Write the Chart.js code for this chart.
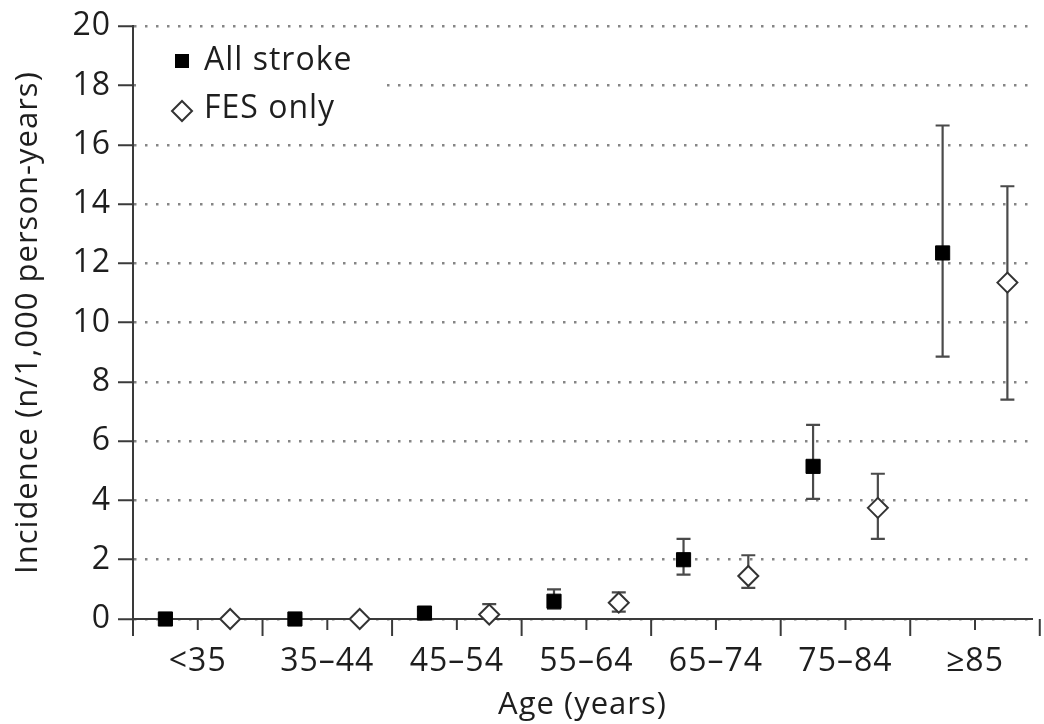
<!DOCTYPE html>
<html lang="en">
<head>
<meta charset="UTF-8">
<title>Stroke incidence by age</title>
<script src="https://cdn.jsdelivr.net/npm/chart.js"></script>
<style>
  html, body { margin: 0; padding: 0; background: #fff; }
</style>
</head>
<body>
<canvas id="strokeChart" width="1044" height="724"></canvas>
<script>
const ageGroups = ['<35', '35–44', '45–54', '55–64', '65–74', '75–84', '≥85'];

// incidence per 1,000 person-years, with lower / upper limits
const allStroke     = [0.0, 0.0, 0.2, 0.6, 2.0, 5.15, 12.35];
const allStrokeLow  = [0.0, 0.0, 0.1, 0.35, 1.5, 4.05, 8.85];
const allStrokeHigh = [0.05, 0.05, 0.3, 1.0, 2.7, 6.55, 16.65];

const fesOnly     = [0.0, 0.0, 0.15, 0.55, 1.45, 3.75, 11.35];
const fesOnlyLow  = [0.0, 0.0, 0.05, 0.25, 1.05, 2.7, 7.4];
const fesOnlyHigh = [0.05, 0.05, 0.5, 0.9, 2.15, 4.9, 14.6];

const yTicks = [0, 2, 4, 6, 8, 10, 12, 14, 16, 18, 20];

const FONT = "'Open Sans', sans-serif";
const INK = '#1e1e1e';
const AXIS = '#3a3a3a';
const SPACING = '1px';

// squares sit in the left half of each age group, diamonds in the right half
const toPoints = (vals, shift) => vals.map((v, i) => ({ x: i + shift, y: v }));

// slightly looser lettering for every label on the canvas
const looseText = {
    id: 'looseText',
    beforeInit(chart) { chart.ctx.letterSpacing = SPACING; },
    beforeUpdate(chart) { chart.ctx.letterSpacing = SPACING; },
    beforeDraw(chart) { chart.ctx.letterSpacing = SPACING; }
};

const errorBars = {
    id: 'errorBars',
    beforeDatasetsDraw(chart) {
        const { ctx, scales: { x, y } } = chart;
        const sets = [
            { shift: 0.25, lo: allStrokeLow, hi: allStrokeHigh },
            { shift: 0.75, lo: fesOnlyLow, hi: fesOnlyHigh }
        ];
        ctx.save();
        ctx.strokeStyle = '#4a4a4a';
        ctx.lineWidth = 2.2;
        sets.forEach(s => {
            s.lo.forEach((lo, i) => {
                const px = x.getPixelForValue(i + s.shift);
                const yl = y.getPixelForValue(lo);
                const yh = y.getPixelForValue(s.hi[i]);
                ctx.beginPath();
                ctx.moveTo(px, yl); ctx.lineTo(px, yh);
                ctx.moveTo(px - 7, yl); ctx.lineTo(px + 7, yl);
                ctx.moveTo(px - 7, yh); ctx.lineTo(px + 7, yh);
                ctx.stroke();
            });
        });
        ctx.restore();
    }
};

// long ticks on group boundaries, short ticks between the two markers
const xTickMarks = {
    id: 'xTickMarks',
    afterDraw(chart) {
        const { ctx, scales: { x, y } } = chart;
        const base = y.getPixelForValue(0);
        ctx.save();
        ctx.strokeStyle = AXIS;
        ctx.lineWidth = 2;
        for (let i = 0; i <= ageGroups.length; i++) {
            [[i, 17], [i + 0.5, 11]].forEach(([v, len]) => {
                const px = x.getPixelForValue(v);
                if (px > chart.width) return;
                ctx.beginPath();
                ctx.moveTo(px, base);
                ctx.lineTo(px, base + len);
                ctx.stroke();
            });
        }
        ctx.restore();
    }
};

const insetLegend = {
    id: 'insetLegend',
    afterDraw(chart) {
        const { ctx } = chart;
        ctx.save();
        ctx.fillStyle = '#fff';
        ctx.fillRect(136, 40, 244, 92);
        ctx.fillStyle = '#000';
        ctx.fillRect(175, 54, 14, 14);
        ctx.beginPath();
        ctx.moveTo(182, 101); ctx.lineTo(192, 111); ctx.lineTo(182, 121); ctx.lineTo(172, 111);
        ctx.closePath();
        ctx.fillStyle = '#fff';
        ctx.fill();
        ctx.strokeStyle = '#333';
        ctx.lineWidth = 2;
        ctx.stroke();
        ctx.fillStyle = INK;
        ctx.font = "500 32px " + FONT;
        ctx.textBaseline = 'middle';
        ctx.fillText('All stroke', 204, 61);
        ctx.fillText('FES only', 204, 109);
        ctx.restore();
    }
};

const ctx = document.getElementById('strokeChart').getContext('2d');
new Chart(ctx, {
    type: 'scatter',
    data: {
        datasets: [
            {
                label: 'All stroke',
                data: toPoints(allStroke, 0.25),
                pointStyle: 'rect',
                pointRadius: 10,
                backgroundColor: '#000',
                borderColor: '#000',
                borderWidth: 1,
                clip: false
            },
            {
                label: 'FES only',
                data: toPoints(fesOnly, 0.75),
                pointStyle: 'rectRot',
                pointRadius: 10,
                backgroundColor: '#fff',
                borderColor: '#333',
                borderWidth: 2,
                clip: false
            }
        ]
    },
    options: {
        responsive: false,
        animation: false,
        layout: { padding: { top: 24, right: 0, left: 0, bottom: 0 } },
        plugins: { legend: { display: false }, tooltip: { enabled: false } },
        scales: {
            x: {
                type: 'linear',
                min: 0,
                max: 6.94,
                afterBuildTicks(s) { s.ticks = ageGroups.map((_, i) => ({ value: i + 0.5 })); },
                afterFit(s) { s.height = 105; },
                ticks: {
                    callback: (v, i) => ageGroups[i],
                    autoSkip: false, maxRotation: 0,
                    font: { family: FONT, size: 32, weight: 500 }, color: INK, padding: 24
                },
                grid: { display: false, drawTicks: false },
                border: { display: true, color: AXIS, width: 2 },
                title: {
                    display: true, text: 'Age (years)',
                    font: { family: FONT, size: 31, weight: 500 }, color: INK,
                    padding: { top: 0, bottom: 0 }
                }
            },
            y: {
                min: 0,
                max: 20,
                afterBuildTicks(s) { s.ticks = yTicks.map(v => ({ value: v })); },
                afterFit(s) { s.width = 133; },
                ticks: { font: { family: FONT, size: 32, weight: 500 }, color: INK, padding: 7 },
                grid: {
                    color: '#858585', lineWidth: 2.5,
                    tickLength: 15, tickColor: AXIS, tickWidth: 2, tickBorderDash: []
                },
                border: { color: AXIS, width: 2, dash: [2.5, 8.5] },
                title: {
                    display: true, text: 'Incidence (n/1,000 person-years)',
                    font: { family: FONT, size: 31, weight: 500 }, color: INK,
                    padding: { top: 10, bottom: 0 }
                }
            }
        }
    },
    plugins: [looseText, errorBars, xTickMarks, insetLegend]
});
</script>
</body>
</html>
